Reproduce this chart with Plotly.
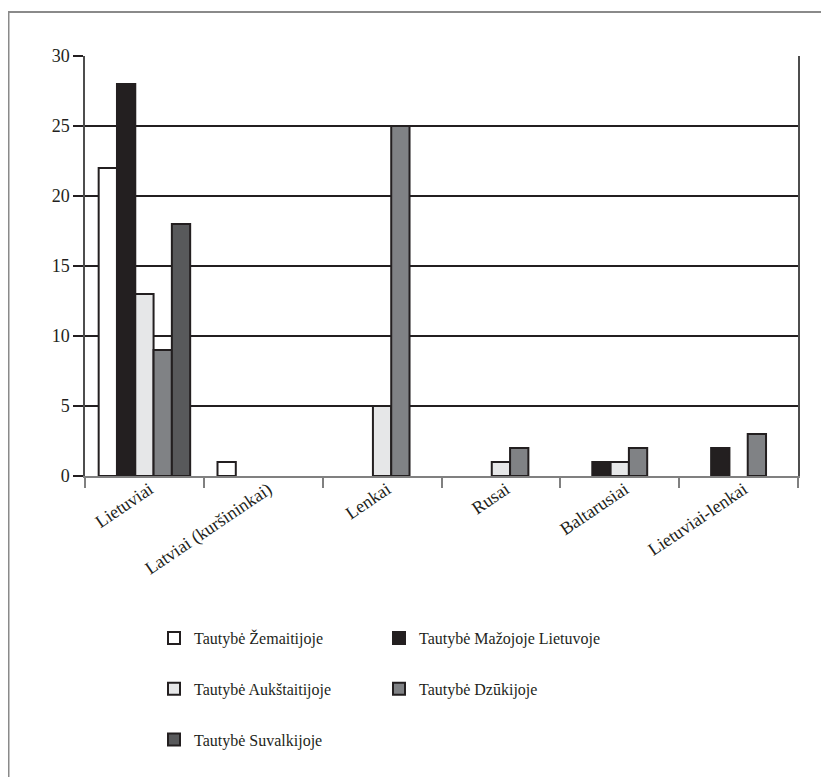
import plotly.graph_objects as go

categories = ["Lietuviai", "Latviai (kuršininkai)", "Lenkai", "Rusai", "Baltarusiai", "Lietuviai-lenkai"]
series_names = ["Tautybė Žemaitijoje", "Tautybė Mažojoje Lietuvoje", "Tautybė Aukštaitijoje",
                "Tautybė Dzūkijoje", "Tautybė Suvalkijoje"]
zemaitija = [22, 1, 0, 0, 0, 0]
mazoji_lietuva = [28, 0, 0, 0, 1, 2]
aukstaitija = [13, 0, 5, 1, 1, 0]
dzukija = [9, 0, 25, 2, 2, 3]
suvalkija = [18, 0, 0, 0, 0, 0]
y_ticks = [0, 5, 10, 15, 20, 25, 30]

values = [zemaitija, mazoji_lietuva, aukstaitija, dzukija, suvalkija]
colors = ["#ffffff", "#231f20", "#e6e7e8", "#808285", "#58595b"]
legend_ids = ["legend", "legend2", "legend", "legend2", "legend"]

# page has an 8px body margin; figure coordinates below are page coords minus 8
W, H = 821, 769
ml, mr, mt, mb = 77, 31, 48, 301
pw = W - ml - mr
ph = H - mt - mb

def px_x(x):
    return (x - ml) / pw

def px_y(y):
    return (H - mb - y) / ph

fig = go.Figure()
for i, (name, vals, col, lg) in enumerate(zip(series_names, values, colors, legend_ids)):
    fig.add_trace(go.Bar(
        x=categories, y=[v if v != 0 else None for v in vals], name=name,
        marker=dict(color=col, line=dict(color="#231f20", width=2)),
        legend=lg, legendgroup=f"g{i}",
    ))

fam = "Liberation Serif"
font = dict(family=fam, size=16, color="#231f20")

fig.update_layout(
    width=W, height=H,
    margin=dict(l=ml, r=mr, t=mt, b=mb),
    paper_bgcolor="white", plot_bgcolor="white",
    font=font,
    barmode="group", bargap=0.23, bargroupgap=0,
    showlegend=True,
    legend=dict(x=px_x(146), y=px_y(613), xanchor="left", yanchor="top",
                orientation="v", tracegroupgap=27, font=font, bgcolor="rgba(0,0,0,0)"),
    legend2=dict(x=px_x(371), y=px_y(613), xanchor="left", yanchor="top",
                 orientation="v", tracegroupgap=27, font=font, bgcolor="rgba(0,0,0,0)"),
    xaxis=dict(
        type="category", tickangle=-34, tickson="boundaries",
        ticks="outside", ticklen=10, tickwidth=2, tickcolor="#808080",
        showline=True, linecolor="#808080", linewidth=2,
        showgrid=False, zeroline=False, ticklabelstandoff=-6, ticklabelshift=5,
        tickfont=dict(family=fam, size=18, color="#231f20"),
    ),
    yaxis=dict(
        range=[0, 30], tickvals=y_ticks, ticks="outside", ticklen=10, tickwidth=1.5,
        tickcolor="#231f20", showline=True, linecolor="#4d4d4d", linewidth=1.5, mirror=True,
        showgrid=True, gridcolor="#231f20", gridwidth=1.5, zeroline=False,
        tickfont=dict(family=fam, size=18, color="#231f20"),
    ),
    shapes=[dict(type="rect", xref="paper", yref="paper",
                 x0=px_x(0.5), x1=px_x(840), y0=px_y(4), y1=px_y(800),
                 line=dict(color="#8a8a8a", width=2), fillcolor="rgba(0,0,0,0)", layer="below")],
)

fig.write_html("out.html")
